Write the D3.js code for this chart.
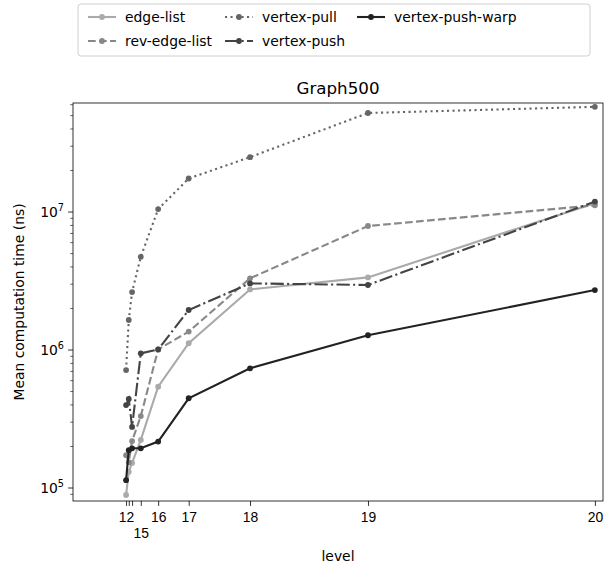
<!DOCTYPE html>
<html>
<head>
<meta charset="utf-8">
<script src="https://cdn.jsdelivr.net/npm/d3@7"></script>
<style>
  body { margin: 0; background: #fff; }
  svg { font-family: "DejaVu Sans", sans-serif; }
</style>
</head>
<body>
<script>
// graph levels (x tick labels) and their sizes on the x axis (millions of edges, estimated)
const levels = [12, 13, 14, 15, 16, 17, 18, 19, 20]
const sizes = [0.065, 0.161, 0.279, 0.59, 1.21, 2.30, 4.49, 8.70, 16.8]
const tickLabels = ["12", "", "", "15", "16", "17", "18", "19", "20"]

// mean computation time (ns) per level
const edgeList = [8.9e4, 1.31e5, 1.52e5, 2.23e5, 5.42e5, 1.12e6, 2.75e6, 3.36e6, 1.16e7]
const revEdgeList = [1.73e5, 1.54e5, 2.19e5, 3.32e5, 1.01e6, 1.36e6, 3.31e6, 7.92e6, 1.12e7]
const vertexPull = [7.16e5, 1.65e6, 2.63e6, 4.74e6, 1.05e7, 1.75e7, 2.50e7, 5.22e7, 5.79e7]
const vertexPush = [3.99e5, 4.42e5, 2.77e5, 9.46e5, 1.01e6, 1.95e6, 3.04e6, 2.96e6, 1.19e7]
const vertexPushWarp = [1.14e5, 1.88e5, 1.94e5, 1.94e5, 2.17e5, 4.47e5, 7.37e5, 1.28e6, 2.72e6]

const series = [
    { name: "edge-list", values: edgeList, color: "#aaaaaa", dash: null },
    { name: "rev-edge-list", values: revEdgeList, color: "#888888", dash: "7.7,3.3" },
    { name: "vertex-pull", values: vertexPull, color: "#666666", dash: "2.1,3.4" },
    { name: "vertex-push", values: vertexPush, color: "#444444", dash: "13.3,3.3,2.1,3.3" },
    { name: "vertex-push-warp", values: vertexPushWarp, color: "#222222", dash: null }
]

const width = 604
const height = 567
const margin = { top: 103, right: 1, bottom: 66, left: 73 }

const svg = d3.select("body").append("svg")
    .attr("width", width)
    .attr("height", height)

const x = d3.scaleLinear()
    .domain([-1.83, 17.09])
    .range([margin.left, width - margin.right])

const y = d3.scaleLog()
    .domain([8.05e4, 6.17e7])
    .range([height - margin.bottom, margin.top])

// x axis
const xAxis = svg.append("g")
    .attr("transform", `translate(0,${height - margin.bottom})`)
    .call(d3.axisBottom(x).tickValues(sizes).tickSize(4.9).tickPadding(6).tickFormat((d, i) => tickLabels[i]))
xAxis.select(".domain").remove()
xAxis.selectAll("text").attr("font-size", 13.9).attr("fill", "#000")
    .attr("dy", (d, i) => i === 3 ? "1.9em" : "0.71em")
xAxis.selectAll("line").attr("stroke", "#000").attr("stroke-width", 0.8)

// y axis, log scale with minor ticks
const majors = [1e5, 1e6, 1e7]
const minors = []
;[1e4, 1e5, 1e6, 1e7].forEach(p => {
    for (let k = 2; k <= 9; k++) {
        const v = k * p
        if (v > y.domain()[0] && v < y.domain()[1]) minors.push(v)
    }
})
const yAxis = svg.append("g").attr("transform", `translate(${margin.left},0)`)
yAxis.selectAll(".minor").data(minors).join("line")
    .attr("x1", -2.8).attr("x2", 0)
    .attr("y1", d => y(d)).attr("y2", d => y(d))
    .attr("stroke", "#000").attr("stroke-width", 0.6)
yAxis.selectAll(".major").data(majors).join("line")
    .attr("x1", -4.9).attr("x2", 0)
    .attr("y1", d => y(d)).attr("y2", d => y(d))
    .attr("stroke", "#000").attr("stroke-width", 0.8)
const ylab = yAxis.selectAll(".lab").data(majors).join("text")
    .attr("x", -9)
    .attr("y", d => y(d) + 5)
    .attr("text-anchor", "end")
    .attr("font-size", 13.9)
ylab.append("tspan").text("10")
ylab.append("tspan").attr("dy", -6).attr("font-size", 9.7).text(d => Math.round(Math.log10(d)))

// frame
svg.append("rect")
    .attr("x", margin.left).attr("y", margin.top)
    .attr("width", width - margin.right - margin.left)
    .attr("height", height - margin.bottom - margin.top)
    .attr("fill", "none").attr("stroke", "#000").attr("stroke-width", 0.8)

// lines
const line = d3.line()
    .x((d, i) => x(sizes[i]))
    .y(d => y(d))

const plot = svg.append("g")
series.forEach(s => {
    plot.append("path")
        .datum(s.values)
        .attr("d", line)
        .attr("fill", "none")
        .attr("stroke", s.color)
        .attr("stroke-width", 2.1)
        .attr("stroke-dasharray", s.dash)
    plot.selectAll(null).data(s.values).join("circle")
        .attr("cx", (d, i) => x(sizes[i]))
        .attr("cy", d => y(d))
        .attr("r", 2.9)
        .attr("fill", s.color)
})

// title and labels
svg.append("text")
    .attr("x", (margin.left + width - margin.right) / 2)
    .attr("y", 94)
    .attr("text-anchor", "middle")
    .attr("font-size", 16.7)
    .text("Graph500")

svg.append("text")
    .attr("x", (margin.left + width - margin.right) / 2)
    .attr("y", 561)
    .attr("text-anchor", "middle")
    .attr("font-size", 13.9)
    .text("level")

svg.append("text")
    .attr("transform", `translate(24,${(margin.top + height - margin.bottom) / 2}) rotate(-90)`)
    .attr("text-anchor", "middle")
    .attr("font-size", 13.9)
    .text("Mean computation time (ns)")

// legend
const legend = svg.append("g")
legend.append("rect")
    .attr("x", 78).attr("y", 4).attr("width", 512).attr("height", 52)
    .attr("rx", 3)
    .attr("fill", "#fff").attr("stroke", "#d0d0d0")
const cols = [88, 225, 357]
series.forEach((s, i) => {
    const col = i < 2 ? 0 : (i < 4 ? 1 : 2)
    const row = i < 4 ? i % 2 : 0
    const lx = cols[col]
    const ly = 17 + row * 24
    const g = legend.append("g")
    g.append("line")
        .attr("x1", lx).attr("x2", lx + 28).attr("y1", ly).attr("y2", ly)
        .attr("stroke", s.color).attr("stroke-width", 2.1)
        .attr("stroke-dasharray", s.dash)
    g.append("circle").attr("cx", lx + 14).attr("cy", ly).attr("r", 2.9).attr("fill", s.color)
    g.append("text")
        .attr("x", lx + 37).attr("y", ly + 5)
        .attr("font-size", 13.9)
        .text(s.name)
})
</script>
</body>
</html>
